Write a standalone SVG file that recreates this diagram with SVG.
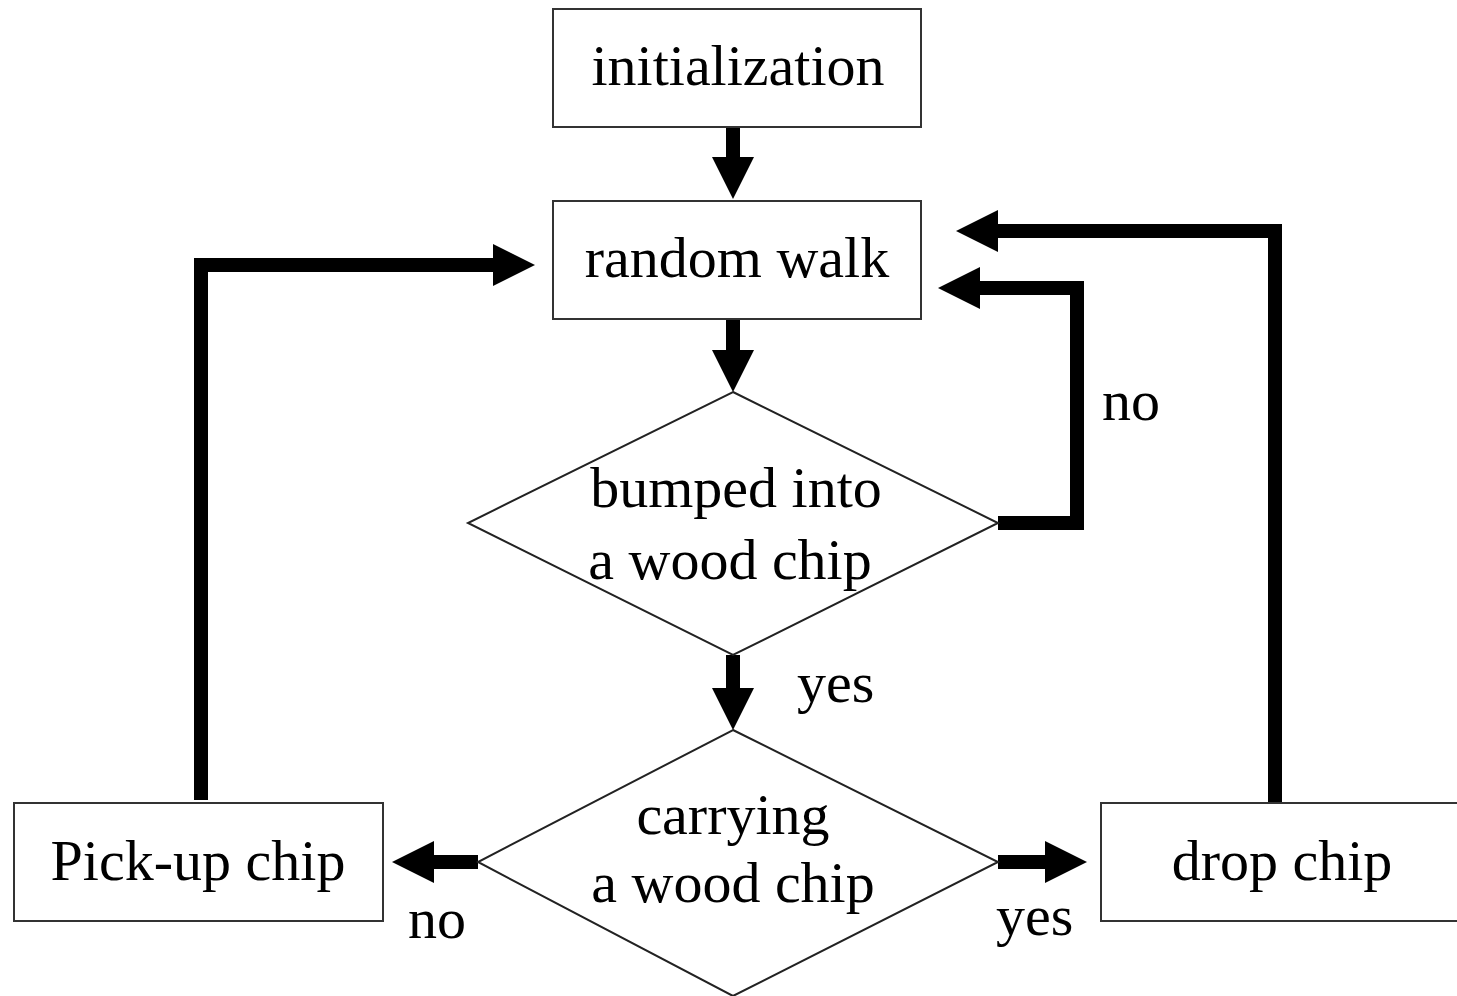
<svg xmlns="http://www.w3.org/2000/svg" width="1457" height="996" viewBox="0 0 1457 996">
<style>
.box{fill:#fff;stroke:#333;stroke-width:2}
.dia{fill:#fff;stroke:#222;stroke-width:2}
.t{font-family:"Liberation Serif","Times New Roman",serif;font-size:58px;fill:#000;text-anchor:middle}
.lbl{font-family:"Liberation Serif","Times New Roman",serif;font-size:58px;fill:#000}
.c{fill:none;stroke:#000;stroke-width:14;stroke-linejoin:miter;stroke-linecap:butt;marker-end:url(#ah)}
</style>
<defs>
<marker id="ah" markerUnits="userSpaceOnUse" markerWidth="42" markerHeight="42" refX="0" refY="21" orient="auto">
<path d="M0,0 L42,21 L0,42 Z" fill="#000"/>
</marker>
</defs>
<rect width="1457" height="996" fill="#fff"/>
<g id="connectors">
<path class="c" d="M733,127 L733,157"/>
<path class="c" d="M733,320 L733,350"/>
<path class="c" d="M733,655 L733,688"/>
<path class="c" d="M998,523 L1077,523 L1077,288 L980,288"/>
<path class="c" d="M478,862 L434,862"/>
<path class="c" d="M998,862 L1045,862"/>
<path class="c" d="M1275,803 L1275,231 L998,231"/>
<path class="c" d="M201,800 L201,265 L493,265"/>
</g>
<g id="init">
<rect class="box" x="553" y="9" width="368" height="118"/>
<text class="t" x="738" y="85">initialization</text>
</g>
<g id="randomwalk">
<rect class="box" x="553" y="201" width="368" height="118"/>
<text class="t" x="737" y="277">random walk</text>
</g>
<g id="bumped">
<polygon class="dia" points="733,392 998,523 733,655 468,523"/>
<text class="t" x="736" y="507">bumped into</text>
<text class="t" x="730" y="579">a wood chip</text>
</g>
<g id="carrying">
<polygon class="dia" points="733,730 998,862 733,996 478,862"/>
<text class="t" x="733" y="834">carrying</text>
<text class="t" x="733" y="902">a wood chip</text>
</g>
<g id="pickup">
<rect class="box" x="14" y="803" width="369" height="118"/>
<text class="t" x="198" y="880">Pick-up chip</text>
</g>
<g id="drop">
<rect class="box" x="1101" y="803" width="370" height="118"/>
<text class="t" x="1282" y="880">drop chip</text>
</g>
<g id="labels">
<text class="lbl" x="1102" y="420">no</text>
<text class="lbl" x="797" y="702">yes</text>
<text class="lbl" x="408" y="938">no</text>
<text class="lbl" x="996" y="935">yes</text>
</g>
</svg>
